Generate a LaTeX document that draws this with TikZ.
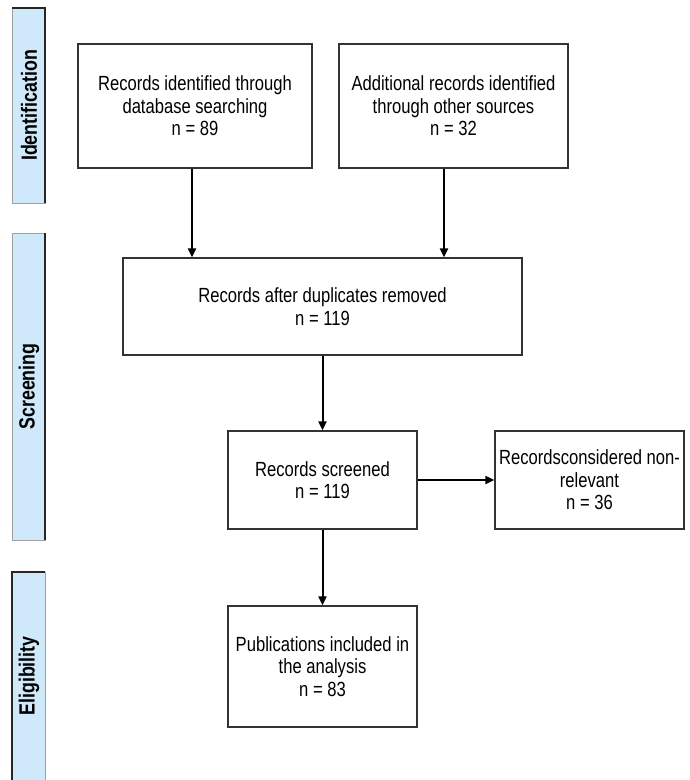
\documentclass[tikz,border=0pt]{standalone}
\usepackage{fontspec}
\setmainfont[FakeStretch=0.81]{Liberation Sans}
\usetikzlibrary{arrows.meta}
\definecolor{barblue}{HTML}{CFE9FA}
\definecolor{edgegray}{HTML}{A0A0A0}
\definecolor{boxline}{HTML}{333333}
\begin{document}
\begin{tikzpicture}[x=1pt,y=-1pt,
  box/.style={draw=boxline,line width=1.3pt,rectangle,inner sep=0pt,align=center,
    font=\fontsize{20.5}{22.5}\selectfont},
  arr/.style={-{Triangle[length=9pt,width=8pt]},line width=2pt},
  bar/.style={fill=barblue,draw=edgegray,line width=1pt},
  darkedge/.style={draw=black!85,line width=1.3pt},
  barlabel/.style={rotate=90,inner sep=0pt,font=\bfseries\fontsize{22}{24}\selectfont}]
\useasboundingbox (0,0) rectangle (690,780);
% side bars
\path[bar] (12,8) rectangle (45,203);
\draw[darkedge] (12,8) -- (45,8) -- (45,203);
\path[bar] (12,233) rectangle (45,540);
\draw[darkedge] (45,233) -- (45,540);
\path[bar] (12,572) rectangle (45,780);
\draw[darkedge] (12,780) -- (12,572) -- (45,572);
\node[barlabel] (l1) at (29,105.5) {Identification};
\node[barlabel] (l2) at (29,386.5) {Screening};
\node[barlabel] (l3) at (29,676) {Eligibility};
% boxes
\node[box,minimum width=234pt,minimum height=124pt] (b1) at (195,106)
  {Records identified through\\database searching\\n = 89};
\node[box,minimum width=229pt,minimum height=124pt] (b2) at (453.5,106)
  {Additional records identified\\through other sources\\n = 32};
\node[box,minimum width=399pt,minimum height=97pt] (b3) at (322.5,306.5)
  {Records after duplicates removed\\n = 119};
\node[box,minimum width=189pt,minimum height=98pt] (b4) at (322.5,480)
  {Records screened\\n = 119};
\node[box,minimum width=189pt,minimum height=98pt] (b5) at (589.5,480)
  {Recordsconsidered non-\\relevant\\n = 36};
\node[box,minimum width=189pt,minimum height=121pt] (b6) at (322.5,666.5)
  {Publications included in\\the analysis\\n = 83};
% connectors
\draw[arr] ([xshift=-3pt]b1.south) -- ([xshift=-3pt]b1.south |- b3.north);
\draw[arr] ([xshift=-9.5pt]b2.south) -- ([xshift=-9.5pt]b2.south |- b3.north);
\draw[arr] (b3.south) -- (b4.north);
\draw[arr] (b4.east) -- (b5.west);
\draw[arr] (b4.south) -- (b6.north);
\end{tikzpicture}
\end{document}
